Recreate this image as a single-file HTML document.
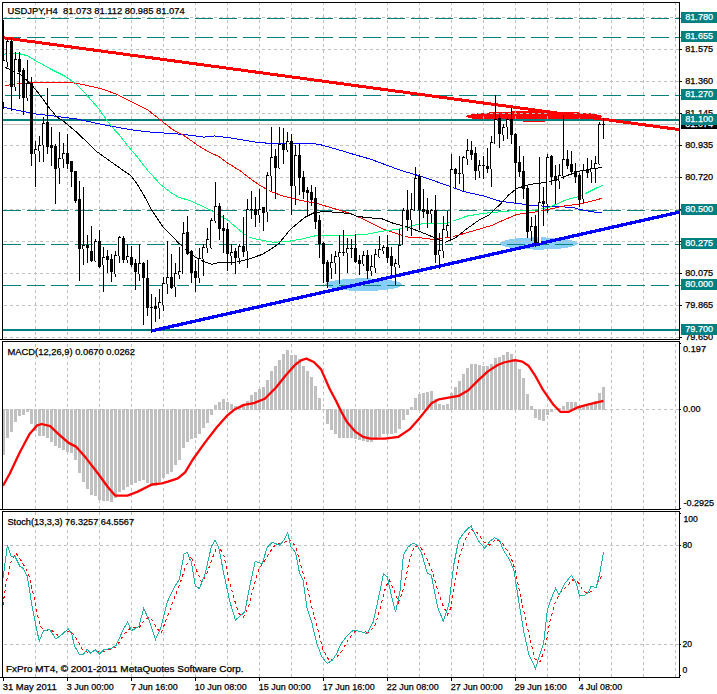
<!DOCTYPE html><html><head><meta charset="utf-8"><title>USDJPY,H4</title>
<style>html,body{margin:0;padding:0;background:#fff;overflow:hidden}svg{display:block}text{font-family:"Liberation Sans",sans-serif;font-size:9.33px;fill:#000;stroke:#000;stroke-width:.25px}.w{fill:#fff;stroke:#fff}.cr{shape-rendering:crispEdges}</style></head><body>
<svg width="717" height="694" viewBox="0 0 717 694">
<rect width="717" height="694" fill="#fff"/>
<defs><clipPath id="c1"><rect x="3" y="3" width="676" height="336"/></clipPath><clipPath id="c2"><rect x="3" y="342" width="676" height="167"/></clipPath><clipPath id="c3"><rect x="3" y="512" width="676" height="165"/></clipPath></defs>
<g clip-path="url(#c1)">
<ellipse class="cr" cx="363.5" cy="284.7" rx="38.6" ry="6.3" fill="#87cefa"/>
<ellipse class="cr" cx="538.7" cy="243.5" rx="39" ry="6.1" fill="#87cefa"/>
<ellipse class="cr" cx="534" cy="116.4" rx="68" ry="5.2" fill="#ff0000"/>
</g>
<g class="cr" stroke="#c0c0c0" stroke-width="1" stroke-dasharray="3 3" fill="none">
<path d="M35.5 3V339" stroke-dashoffset="1"/><path d="M35.5 342V509" stroke-dashoffset="4"/><path d="M35.5 512V677"/>
<path d="M67.5 3V339" stroke-dashoffset="1"/><path d="M67.5 342V509" stroke-dashoffset="4"/><path d="M67.5 512V677"/>
<path d="M99.5 3V339" stroke-dashoffset="1"/><path d="M99.5 342V509" stroke-dashoffset="4"/><path d="M99.5 512V677"/>
<path d="M131.5 3V339" stroke-dashoffset="1"/><path d="M131.5 342V509" stroke-dashoffset="4"/><path d="M131.5 512V677"/>
<path d="M163.5 3V339" stroke-dashoffset="1"/><path d="M163.5 342V509" stroke-dashoffset="4"/><path d="M163.5 512V677"/>
<path d="M195.5 3V339" stroke-dashoffset="1"/><path d="M195.5 342V509" stroke-dashoffset="4"/><path d="M195.5 512V677"/>
<path d="M227.5 3V339" stroke-dashoffset="1"/><path d="M227.5 342V509" stroke-dashoffset="4"/><path d="M227.5 512V677"/>
<path d="M259.5 3V339" stroke-dashoffset="1"/><path d="M259.5 342V509" stroke-dashoffset="4"/><path d="M259.5 512V677"/>
<path d="M291.5 3V339" stroke-dashoffset="1"/><path d="M291.5 342V509" stroke-dashoffset="4"/><path d="M291.5 512V677"/>
<path d="M323.5 3V339" stroke-dashoffset="1"/><path d="M323.5 342V509" stroke-dashoffset="4"/><path d="M323.5 512V677"/>
<path d="M355.5 3V339" stroke-dashoffset="1"/><path d="M355.5 342V509" stroke-dashoffset="4"/><path d="M355.5 512V677"/>
<path d="M387.5 3V339" stroke-dashoffset="1"/><path d="M387.5 342V509" stroke-dashoffset="4"/><path d="M387.5 512V677"/>
<path d="M419.5 3V339" stroke-dashoffset="1"/><path d="M419.5 342V509" stroke-dashoffset="4"/><path d="M419.5 512V677"/>
<path d="M451.5 3V339" stroke-dashoffset="1"/><path d="M451.5 342V509" stroke-dashoffset="4"/><path d="M451.5 512V677"/>
<path d="M483.5 3V339" stroke-dashoffset="1"/><path d="M483.5 342V509" stroke-dashoffset="4"/><path d="M483.5 512V677"/>
<path d="M515.5 3V339" stroke-dashoffset="1"/><path d="M515.5 342V509" stroke-dashoffset="4"/><path d="M515.5 512V677"/>
<path d="M547.5 3V339" stroke-dashoffset="1"/><path d="M547.5 342V509" stroke-dashoffset="4"/><path d="M547.5 512V677"/>
<path d="M579.5 3V339" stroke-dashoffset="1"/><path d="M579.5 342V509" stroke-dashoffset="4"/><path d="M579.5 512V677"/>
<path d="M611.5 3V339" stroke-dashoffset="1"/><path d="M611.5 342V509" stroke-dashoffset="4"/><path d="M611.5 512V677"/>
<path d="M643.5 3V339" stroke-dashoffset="1"/><path d="M643.5 342V509" stroke-dashoffset="4"/><path d="M643.5 512V677"/>
<path d="M675.5 3V339" stroke-dashoffset="1"/><path d="M675.5 342V509" stroke-dashoffset="4"/><path d="M675.5 512V677"/>
<path d="M3 17.5H679" stroke-dashoffset="5"/>
<path d="M3 49.5H679" stroke-dashoffset="5"/>
<path d="M3 81.5H679" stroke-dashoffset="5"/>
<path d="M3 113.5H679" stroke-dashoffset="5"/>
<path d="M3 145.5H679" stroke-dashoffset="5"/>
<path d="M3 177.5H679" stroke-dashoffset="5"/>
<path d="M3 209.5H679" stroke-dashoffset="5"/>
<path d="M3 241.5H679" stroke-dashoffset="5"/>
<path d="M3 273.5H679" stroke-dashoffset="5"/>
<path d="M3 305.5H679" stroke-dashoffset="5"/>
<path d="M3 337.5H679" stroke-dashoffset="5"/>
<path d="M3 409.5H679M3 545.5H679M3 644.5H679" stroke-dashoffset="5"/>
</g>
<g class="cr" fill="#c0c0c0" clip-path="url(#c2)">
<rect x="2" y="409" width="3" height="46"/>
<rect x="6" y="409" width="3" height="29"/>
<rect x="10" y="409" width="3" height="23"/>
<rect x="14" y="409" width="3" height="13"/>
<rect x="18" y="409" width="3" height="7"/>
<rect x="22" y="409" width="3" height="6"/>
<rect x="26" y="409" width="3" height="3"/>
<rect x="30" y="409" width="3" height="15"/>
<rect x="34" y="409" width="3" height="22"/>
<rect x="38" y="409" width="3" height="27"/>
<rect x="42" y="409" width="3" height="27"/>
<rect x="46" y="409" width="3" height="29"/>
<rect x="50" y="409" width="3" height="33"/>
<rect x="54" y="409" width="3" height="37"/>
<rect x="58" y="409" width="3" height="39"/>
<rect x="62" y="409" width="3" height="41"/>
<rect x="66" y="409" width="3" height="43"/>
<rect x="70" y="409" width="3" height="44"/>
<rect x="74" y="409" width="3" height="51"/>
<rect x="78" y="409" width="3" height="64"/>
<rect x="82" y="409" width="3" height="73"/>
<rect x="86" y="409" width="3" height="80"/>
<rect x="90" y="409" width="3" height="86"/>
<rect x="94" y="409" width="3" height="87"/>
<rect x="98" y="409" width="3" height="91"/>
<rect x="102" y="409" width="3" height="92"/>
<rect x="106" y="409" width="3" height="92"/>
<rect x="110" y="409" width="3" height="93"/>
<rect x="114" y="409" width="3" height="89"/>
<rect x="118" y="409" width="3" height="83"/>
<rect x="122" y="409" width="3" height="81"/>
<rect x="126" y="409" width="3" height="78"/>
<rect x="130" y="409" width="3" height="76"/>
<rect x="134" y="409" width="3" height="74"/>
<rect x="138" y="409" width="3" height="72"/>
<rect x="142" y="409" width="3" height="71"/>
<rect x="146" y="409" width="3" height="74"/>
<rect x="150" y="409" width="3" height="77"/>
<rect x="154" y="409" width="3" height="77"/>
<rect x="158" y="409" width="3" height="73"/>
<rect x="162" y="409" width="3" height="69"/>
<rect x="166" y="409" width="3" height="65"/>
<rect x="170" y="409" width="3" height="63"/>
<rect x="174" y="409" width="3" height="56"/>
<rect x="178" y="409" width="3" height="51"/>
<rect x="182" y="409" width="3" height="39"/>
<rect x="186" y="409" width="3" height="33"/>
<rect x="190" y="409" width="3" height="30"/>
<rect x="194" y="409" width="3" height="29"/>
<rect x="198" y="409" width="3" height="25"/>
<rect x="202" y="409" width="3" height="19"/>
<rect x="206" y="409" width="3" height="14"/>
<rect x="210" y="409" width="3" height="6"/>
<rect x="214" y="405" width="3" height="5"/>
<rect x="218" y="402" width="3" height="8"/>
<rect x="222" y="399" width="3" height="11"/>
<rect x="226" y="402" width="3" height="8"/>
<rect x="230" y="404" width="3" height="6"/>
<rect x="234" y="406" width="3" height="4"/>
<rect x="238" y="406" width="3" height="4"/>
<rect x="242" y="404" width="3" height="6"/>
<rect x="246" y="401" width="3" height="9"/>
<rect x="250" y="395" width="3" height="15"/>
<rect x="254" y="392" width="3" height="18"/>
<rect x="258" y="389" width="3" height="21"/>
<rect x="262" y="387" width="3" height="23"/>
<rect x="266" y="380" width="3" height="30"/>
<rect x="270" y="371" width="3" height="39"/>
<rect x="274" y="366" width="3" height="44"/>
<rect x="278" y="360" width="3" height="50"/>
<rect x="282" y="354" width="3" height="56"/>
<rect x="286" y="350" width="3" height="60"/>
<rect x="290" y="355" width="3" height="55"/>
<rect x="294" y="355" width="3" height="55"/>
<rect x="298" y="359" width="3" height="51"/>
<rect x="302" y="366" width="3" height="44"/>
<rect x="306" y="371" width="3" height="39"/>
<rect x="310" y="377" width="3" height="33"/>
<rect x="314" y="386" width="3" height="24"/>
<rect x="318" y="398" width="3" height="12"/>
<rect x="322" y="409" width="3" height="1"/>
<rect x="326" y="409" width="3" height="15"/>
<rect x="330" y="409" width="3" height="21"/>
<rect x="334" y="409" width="3" height="25"/>
<rect x="338" y="409" width="3" height="29"/>
<rect x="342" y="409" width="3" height="29"/>
<rect x="346" y="409" width="3" height="29"/>
<rect x="350" y="409" width="3" height="29"/>
<rect x="354" y="409" width="3" height="30"/>
<rect x="358" y="409" width="3" height="31"/>
<rect x="362" y="409" width="3" height="32"/>
<rect x="366" y="409" width="3" height="33"/>
<rect x="370" y="409" width="3" height="33"/>
<rect x="374" y="409" width="3" height="31"/>
<rect x="378" y="409" width="3" height="28"/>
<rect x="382" y="409" width="3" height="25"/>
<rect x="386" y="409" width="3" height="25"/>
<rect x="390" y="409" width="3" height="25"/>
<rect x="394" y="409" width="3" height="24"/>
<rect x="398" y="409" width="3" height="20"/>
<rect x="402" y="409" width="3" height="11"/>
<rect x="406" y="409" width="3" height="6"/>
<rect x="410" y="407" width="3" height="3"/>
<rect x="414" y="398" width="3" height="12"/>
<rect x="418" y="394" width="3" height="16"/>
<rect x="422" y="393" width="3" height="17"/>
<rect x="426" y="392" width="3" height="18"/>
<rect x="430" y="391" width="3" height="19"/>
<rect x="434" y="399" width="3" height="11"/>
<rect x="438" y="404" width="3" height="6"/>
<rect x="442" y="405" width="3" height="5"/>
<rect x="446" y="404" width="3" height="6"/>
<rect x="450" y="393" width="3" height="17"/>
<rect x="454" y="387" width="3" height="23"/>
<rect x="458" y="381" width="3" height="29"/>
<rect x="462" y="374" width="3" height="36"/>
<rect x="466" y="368" width="3" height="42"/>
<rect x="470" y="364" width="3" height="46"/>
<rect x="474" y="364" width="3" height="46"/>
<rect x="478" y="365" width="3" height="45"/>
<rect x="482" y="366" width="3" height="44"/>
<rect x="486" y="366" width="3" height="44"/>
<rect x="490" y="364" width="3" height="46"/>
<rect x="494" y="358" width="3" height="52"/>
<rect x="498" y="357" width="3" height="53"/>
<rect x="502" y="355" width="3" height="55"/>
<rect x="506" y="352" width="3" height="58"/>
<rect x="510" y="354" width="3" height="56"/>
<rect x="514" y="360" width="3" height="50"/>
<rect x="518" y="369" width="3" height="41"/>
<rect x="522" y="378" width="3" height="32"/>
<rect x="526" y="394" width="3" height="16"/>
<rect x="530" y="406" width="3" height="4"/>
<rect x="534" y="409" width="3" height="9"/>
<rect x="538" y="409" width="3" height="11"/>
<rect x="542" y="409" width="3" height="12"/>
<rect x="546" y="409" width="3" height="6"/>
<rect x="550" y="409" width="3" height="3"/>
<rect x="554" y="409" width="3" height="1"/>
<rect x="558" y="408" width="3" height="2"/>
<rect x="562" y="406" width="3" height="4"/>
<rect x="566" y="402" width="3" height="8"/>
<rect x="570" y="402" width="3" height="8"/>
<rect x="574" y="402" width="3" height="8"/>
<rect x="578" y="406" width="3" height="4"/>
<rect x="582" y="407" width="3" height="3"/>
<rect x="586" y="406" width="3" height="4"/>
<rect x="590" y="404" width="3" height="6"/>
<rect x="594" y="401" width="3" height="9"/>
<rect x="598" y="393" width="3" height="17"/>
<rect x="602" y="387" width="3" height="23"/>
</g>
<polyline clip-path="url(#c2)" points="3.0,485.8 9.8,473.5 19.6,452.7 29.4,434.3 36.7,425.7 41.6,424.0 50.2,426.2 58.8,434.3 68.6,442.9 75.9,446.6 85.7,457.6 98.0,473.5 107.8,487.0 115.1,495.6 127.4,495.6 137.2,491.9 151.9,484.5 161.7,483.3 168.0,481.6 177.8,478.4 185.1,472.3 192.5,460.0 204.7,442.9 217.0,427.0 226.8,415.9 234.1,409.8 243.9,404.9 253.7,403.2 264.8,398.8 275.8,387.8 285.6,375.5 295.4,364.5 301.5,360.1 306.4,358.6 313.8,362.0 321.1,369.4 329.7,389.0 336.0,400.8 340.9,411.0 347.0,422.1 355.6,431.9 363.0,436.8 370.3,438.7 385.0,438.7 398.5,436.8 409.5,429.4 419.3,418.4 431.5,403.2 438.9,399.3 448.7,397.6 458.5,395.9 468.3,390.2 478.1,380.4 487.9,371.4 497.7,365.0 504.0,362.5 515.0,360.1 522.4,361.6 528.5,365.7 535.8,376.7 543.2,390.2 553.0,404.2 560.3,411.8 568.9,411.8 577.5,407.4 589.7,404.2 603.5,400.8" fill="none" stroke="#ff0000" stroke-width="2.3" stroke-linejoin="round"/>
<polyline clip-path="url(#c3)" points="3.0,604.7 6.2,582.3 11.2,561.3 16.1,553.1 22.3,562.5 28.5,573.7 33.5,594.7 37.2,614.6 40.9,627.0 45.8,630.7 52.0,630.7 58.2,635.6 64.4,633.2 70.6,630.7 76.8,639.4 83.0,650.5 89.2,653.0 95.4,650.5 101.6,652.2 109.0,649.8 116.5,646.8 123.9,634.4 131.4,627.0 138.8,628.2 145.0,619.5 150.0,617.0 156.1,627.0 161.1,633.2 167.3,617.0 174.2,598.5 180.4,582.3 185.3,567.5 190.8,556.3 195.3,567.5 201.5,582.3 206.4,574.9 212.6,557.6 217.6,545.2 223.8,555.1 228.7,579.9 233.7,597.2 238.6,613.3 243.6,617.0 248.5,607.1 253.5,587.3 258.5,570.0 263.4,562.5 269.6,552.6 275.8,543.9 282.0,543.9 289.4,539.0 295.6,546.4 300.6,565.0 306.8,584.8 311.7,607.1 316.7,624.5 322.9,649.3 329.1,660.4 336.5,657.5 342.2,650.5 348.4,639.4 354.6,631.9 360.8,631.2 368.2,632.4 374.4,627.0 380.6,607.1 385.6,587.3 389.3,579.9 394.2,591.0 398.5,602.2 404.2,587.3 409.1,561.3 414.1,546.4 420.3,546.4 426.5,557.6 432.7,572.4 437.6,589.8 442.6,604.7 447.5,614.6 451.2,607.1 455.0,579.9 459.9,555.1 464.9,540.2 471.1,529.1 477.3,532.8 483.5,541.5 489.7,545.2 495.8,539.0 502.0,542.7 510.2,555.1 515.2,570.0 520.1,594.7 525.1,617.0 530.0,639.4 535.0,659.2 539.9,661.7 544.9,649.3 549.8,622.0 554.8,603.4 559.8,593.5 566.0,587.3 572.2,579.9 578.3,582.3 583.3,591.0 588.3,593.5 594.5,588.5 599.4,579.9 603.1,573.7" fill="none" stroke="#ff0000" stroke-width="1" stroke-dasharray="3 3" class="cr"/>
<polyline clip-path="url(#c3)" points="3.0,578.6 7.4,545.2 11.2,556.3 14.9,556.3 19.8,566.2 23.5,568.7 27.3,576.2 32.2,607.1 39.2,641.3 43.4,630.7 49.6,629.4 55.8,638.9 62.0,634.4 68.2,628.9 71.9,634.4 74.3,645.5 79.3,654.2 83.0,654.7 87.2,649.3 90.5,653.0 95.4,649.8 99.6,654.2 104.1,649.3 110.3,648.8 116.0,645.5 122.7,630.7 127.6,622.0 131.4,630.7 138.8,626.5 143.7,608.4 148.7,619.5 155.6,639.3 161.1,627.0 167.3,602.2 170.0,596.0 174.2,587.3 179.2,579.9 184.1,553.8 187.3,552.6 191.5,562.5 195.3,586.1 199.5,588.5 205.2,573.7 211.4,546.4 215.1,540.2 218.8,547.7 223.8,573.7 230.0,602.2 235.4,620.0 241.1,615.1 244.8,612.1 249.8,586.1 255.2,561.3 262.2,563.8 267.1,547.7 272.1,542.2 279.5,545.2 284.0,540.2 287.7,532.3 290.7,546.4 295.6,552.6 299.4,572.4 303.1,579.9 306.8,607.1 311.7,622.0 316.7,643.1 321.7,656.7 327.4,663.6 332.8,659.7 336.5,654.0 341.0,643.8 347.2,635.6 353.3,630.2 360.8,631.4 367.0,633.9 373.2,622.0 378.1,599.7 383.6,573.7 387.3,576.9 391.8,597.2 395.5,612.1 399.9,592.3 403.4,555.1 407.9,547.2 412.8,543.2 416.5,544.7 421.5,552.6 427.2,572.9 431.4,575.4 437.6,607.1 443.3,621.3 448.8,604.7 453.7,565.0 458.7,540.2 464.9,531.5 471.1,525.8 474.8,534.0 479.7,542.7 484.7,548.1 489.7,541.5 494.6,537.7 499.6,540.2 503.3,550.1 509.0,558.8 513.9,570.0 518.9,602.2 523.8,631.9 528.8,654.2 535.5,668.6 539.9,654.2 543.7,643.1 547.4,609.6 552.3,596.0 555.6,588.5 559.0,594.7 564.7,583.6 571.4,575.4 575.9,582.3 579.6,596.0 584.5,595.2 588.3,592.3 591.2,586.1 596.2,587.8 599.4,574.9 603.6,552.1" fill="none" stroke="#20b2aa" stroke-width="1" class="cr"/>
<g clip-path="url(#c1)">
<rect class="cr" x="3" y="124" width="676" height="1" fill="#c0c0c0"/>
<g class="cr" stroke="#008080" fill="none">
<path d="M3 18.5H679" stroke-width="1" stroke-dasharray="18 6"/>
<path d="M3 37.5H679" stroke-width="1" stroke-dasharray="18 6"/>
<path d="M3 95.5H679" stroke-width="1" stroke-dasharray="18 6"/>
<path d="M3 210.5H679" stroke-width="1" stroke-dasharray="18 6"/>
<path d="M3 244.5H679" stroke-width="1" stroke-dasharray="18 6"/>
<path d="M3 285.5H679" stroke-width="1" stroke-dasharray="18 6"/>
<path d="M3 120H679" stroke-width="2"/><path d="M3 330H679" stroke-width="2"/>
</g>
<polyline class="cr" points="3.5,107.2 17.3,110.3 34.6,113.8 51.9,115.8 76.1,118.9 96.8,123.3 110.0,126.0 130.9,129.7 147.7,131.8 162.3,132.9 183.2,134.4 204.1,137.1 214.6,136.0 229.2,137.7 243.9,140.2 256.4,142.3 266.7,143.1 291.8,143.5 313.6,143.5 322.0,145.1 338.7,149.8 353.8,154.4 370.0,159.0 400.0,170.1 425.1,177.6 450.2,186.5 463.6,191.5 483.7,196.0 500.4,201.3 516.7,203.3 533.5,205.6 555.2,206.6 572.0,207.3 580.3,209.5 593.7,212.0 602.4,212.3" fill="none" stroke="#0000ff" stroke-width="1"/>
<polyline class="cr" points="3.5,86.1 17.3,83.5 34.6,82.6 51.9,82.6 69.2,82.3 77.8,83.5 89.9,86.1 103.8,89.5 116.3,94.2 130.9,101.5 147.7,109.9 162.3,121.4 172.8,129.7 183.2,135.0 197.9,145.4 208.3,151.7 218.8,156.5 227.2,162.8 239.7,170.5 252.3,180.0 258.4,184.5 270.0,191.2 283.5,196.2 300.2,200.4 316.7,203.4 333.5,208.4 350.2,213.4 363.6,219.3 373.6,224.3 383.7,229.3 397.0,233.8 408.8,237.2 420.0,237.7 433.5,239.5 450.2,237.4 463.6,233.7 475.3,230.3 492.0,225.3 503.8,220.0 516.7,214.5 533.5,212.3 550.2,209.0 563.6,206.1 580.3,203.9 593.7,200.6 602.4,198.2" fill="none" stroke="#ff0000" stroke-width="1"/>
<polyline class="cr" points="3.5,54.1 17.3,53.2 27.7,55.8 34.6,60.1 51.9,69.7 64.0,75.7 74.4,82.6 86.5,94.7 98.6,108.6 107.2,120.7 112.4,127.6 118.4,133.9 126.7,144.4 137.2,156.9 147.7,170.5 160.2,184.1 170.7,192.5 179.0,197.4 189.5,200.5 202.1,206.1 214.6,212.4 227.2,219.7 243.6,233.6 250.3,237.7 263.7,240.6 273.8,242.3 290.0,241.1 300.0,239.4 316.7,235.5 341.8,235.2 363.6,234.9 380.3,231.5 393.7,229.8 407.1,227.7 416.7,224.5 430.1,223.1 446.9,223.6 455.2,220.3 467.0,216.1 483.7,213.3 500.4,211.8 516.7,210.3 533.5,210.3 550.2,207.0 567.0,199.4 580.3,196.1 592.0,190.2 602.4,185.2" fill="none" stroke="#00ff7f" stroke-width="1"/>
<polyline class="cr" points="4.3,67.0 10.4,69.7 20.7,74.8 31.1,84.4 39.8,94.7 48.4,106.8 57.1,117.2 62.0,120.0 77.0,132.5 97.0,151.8 110.0,161.1 120.5,168.5 130.9,175.8 137.2,184.1 143.5,194.6 151.8,210.3 162.3,226.0 170.0,233.9 178.4,242.8 186.7,250.3 195.1,257.0 203.5,261.5 211.8,264.2 220.2,262.3 237.0,262.0 248.7,259.0 262.0,254.5 270.4,249.5 278.8,243.6 290.0,229.9 294.4,226.0 305.2,217.1 313.6,212.9 322.0,211.8 337.0,212.1 350.4,213.8 357.1,216.3 367.0,217.6 382.0,218.8 393.7,223.5 403.8,226.0 413.8,229.3 425.1,233.7 435.1,237.9 445.2,242.4 455.2,237.9 467.0,228.7 478.7,220.3 488.7,215.3 500.4,204.0 508.4,195.2 516.7,188.5 530.1,184.4 546.9,182.2 558.6,178.8 570.3,174.3 580.3,171.0 593.7,168.8 602.4,167.1" fill="none" stroke="#000" stroke-width="1"/>
<line class="cr" x1="3" y1="37.7" x2="680" y2="129.7" stroke="#ff0000" stroke-width="3"/>
<line class="cr" x1="151" y1="331" x2="680" y2="212" stroke="#0000ff" stroke-width="3.3"/>
<g class="cr">
<rect x="3" y="20" width="1" height="89"/>
<rect x="2" y="60" width="3" height="42"/>
<rect class="w" x="3" y="61" width="1" height="40"/>
<rect x="7" y="38" width="1" height="29"/>
<rect x="6" y="41" width="3" height="21"/>
<rect class="w" x="7" y="42" width="1" height="19"/>
<rect x="11" y="38" width="1" height="73"/>
<rect x="10" y="41" width="3" height="46"/>
<rect x="15" y="52" width="1" height="39"/>
<rect x="14" y="59" width="3" height="28"/>
<rect class="w" x="15" y="60" width="1" height="26"/>
<rect x="19" y="52" width="1" height="47"/>
<rect x="18" y="59" width="3" height="13"/>
<rect x="23" y="68" width="1" height="47"/>
<rect x="22" y="70" width="3" height="28"/>
<rect x="27" y="60" width="1" height="41"/>
<rect x="26" y="83" width="3" height="15"/>
<rect class="w" x="27" y="84" width="1" height="13"/>
<rect x="31" y="77" width="1" height="89"/>
<rect x="30" y="83" width="3" height="71"/>
<rect x="35" y="141" width="1" height="46"/>
<rect x="34" y="149" width="3" height="5"/>
<rect class="w" x="35" y="150" width="1" height="3"/>
<rect x="39" y="136" width="1" height="26"/>
<rect x="38" y="145" width="3" height="6"/>
<rect class="w" x="39" y="146" width="1" height="4"/>
<rect x="43" y="117" width="1" height="45"/>
<rect x="42" y="123" width="3" height="22"/>
<rect class="w" x="43" y="124" width="1" height="20"/>
<rect x="47" y="88" width="1" height="66"/>
<rect x="46" y="122" width="3" height="25"/>
<rect x="51" y="127" width="1" height="39"/>
<rect x="50" y="145" width="3" height="3"/>
<rect x="55" y="144" width="1" height="60"/>
<rect x="54" y="146" width="3" height="23"/>
<rect x="59" y="132" width="1" height="52"/>
<rect x="58" y="158" width="3" height="10"/>
<rect class="w" x="59" y="159" width="1" height="8"/>
<rect x="63" y="143" width="1" height="25"/>
<rect x="62" y="153" width="3" height="6"/>
<rect class="w" x="63" y="154" width="1" height="4"/>
<rect x="67" y="134" width="1" height="35"/>
<rect x="66" y="153" width="3" height="11"/>
<rect x="71" y="161" width="1" height="26"/>
<rect x="70" y="161" width="3" height="11"/>
<rect x="75" y="171" width="1" height="32"/>
<rect x="74" y="171" width="3" height="30"/>
<rect x="79" y="181" width="1" height="100"/>
<rect x="78" y="199" width="3" height="50"/>
<rect x="83" y="187" width="1" height="78"/>
<rect x="82" y="245" width="3" height="4"/>
<rect class="w" x="83" y="246" width="1" height="2"/>
<rect x="87" y="235" width="1" height="28"/>
<rect x="86" y="245" width="3" height="3"/>
<rect x="91" y="226" width="1" height="36"/>
<rect x="90" y="251" width="3" height="10"/>
<rect x="95" y="239" width="1" height="23"/>
<rect x="94" y="241" width="3" height="20"/>
<rect class="w" x="95" y="242" width="1" height="18"/>
<rect x="99" y="230" width="1" height="38"/>
<rect x="98" y="241" width="3" height="26"/>
<rect x="103" y="247" width="1" height="45"/>
<rect x="102" y="257" width="3" height="8"/>
<rect class="w" x="103" y="258" width="1" height="6"/>
<rect x="107" y="250" width="1" height="23"/>
<rect x="106" y="256" width="3" height="4"/>
<rect x="111" y="254" width="1" height="28"/>
<rect x="110" y="259" width="3" height="13"/>
<rect x="115" y="251" width="1" height="26"/>
<rect x="114" y="255" width="3" height="19"/>
<rect class="w" x="115" y="256" width="1" height="17"/>
<rect x="119" y="236" width="1" height="27"/>
<rect x="118" y="237" width="3" height="19"/>
<rect class="w" x="119" y="238" width="1" height="17"/>
<rect x="123" y="236" width="1" height="27"/>
<rect x="122" y="238" width="3" height="22"/>
<rect x="127" y="244" width="1" height="19"/>
<rect x="126" y="256" width="3" height="4"/>
<rect class="w" x="127" y="257" width="1" height="2"/>
<rect x="131" y="246" width="1" height="21"/>
<rect x="130" y="257" width="3" height="8"/>
<rect x="135" y="259" width="1" height="31"/>
<rect x="134" y="263" width="3" height="9"/>
<rect x="139" y="244" width="1" height="37"/>
<rect x="138" y="263" width="3" height="11"/>
<rect class="w" x="139" y="264" width="1" height="9"/>
<rect x="143" y="262" width="1" height="63"/>
<rect x="142" y="263" width="3" height="15"/>
<rect x="147" y="260" width="1" height="56"/>
<rect x="146" y="278" width="3" height="30"/>
<rect x="151" y="294" width="1" height="39"/>
<rect x="150" y="307" width="3" height="1"/>
<rect x="155" y="297" width="1" height="25"/>
<rect x="154" y="306" width="3" height="3"/>
<rect x="159" y="289" width="1" height="30"/>
<rect x="158" y="302" width="3" height="6"/>
<rect class="w" x="159" y="303" width="1" height="4"/>
<rect x="163" y="277" width="1" height="34"/>
<rect x="162" y="283" width="3" height="22"/>
<rect class="w" x="163" y="284" width="1" height="20"/>
<rect x="167" y="241" width="1" height="53"/>
<rect x="166" y="277" width="3" height="7"/>
<rect class="w" x="167" y="278" width="1" height="5"/>
<rect x="171" y="254" width="1" height="35"/>
<rect x="170" y="277" width="3" height="11"/>
<rect x="175" y="263" width="1" height="34"/>
<rect x="174" y="273" width="3" height="14"/>
<rect class="w" x="175" y="274" width="1" height="12"/>
<rect x="179" y="247" width="1" height="32"/>
<rect x="178" y="271" width="3" height="4"/>
<rect class="w" x="179" y="272" width="1" height="2"/>
<rect x="183" y="222" width="1" height="52"/>
<rect x="182" y="233" width="3" height="41"/>
<rect class="w" x="183" y="234" width="1" height="39"/>
<rect x="187" y="216" width="1" height="39"/>
<rect x="186" y="232" width="3" height="22"/>
<rect x="191" y="250" width="1" height="33"/>
<rect x="190" y="251" width="3" height="22"/>
<rect x="195" y="260" width="1" height="32"/>
<rect x="194" y="271" width="3" height="7"/>
<rect x="199" y="248" width="1" height="35"/>
<rect x="198" y="258" width="3" height="20"/>
<rect class="w" x="199" y="259" width="1" height="18"/>
<rect x="203" y="244" width="1" height="32"/>
<rect x="202" y="247" width="3" height="12"/>
<rect class="w" x="203" y="248" width="1" height="10"/>
<rect x="207" y="228" width="1" height="25"/>
<rect x="206" y="239" width="3" height="9"/>
<rect class="w" x="207" y="240" width="1" height="7"/>
<rect x="211" y="218" width="1" height="31"/>
<rect x="210" y="220" width="3" height="28"/>
<rect class="w" x="211" y="221" width="1" height="26"/>
<rect x="215" y="182" width="1" height="41"/>
<rect x="214" y="206" width="3" height="15"/>
<rect class="w" x="215" y="207" width="1" height="13"/>
<rect x="219" y="203" width="1" height="37"/>
<rect x="218" y="206" width="3" height="23"/>
<rect x="223" y="215" width="1" height="38"/>
<rect x="222" y="228" width="3" height="3"/>
<rect x="227" y="223" width="1" height="48"/>
<rect x="226" y="229" width="3" height="25"/>
<rect x="231" y="244" width="1" height="21"/>
<rect x="230" y="252" width="3" height="4"/>
<rect class="w" x="231" y="253" width="1" height="2"/>
<rect x="235" y="248" width="1" height="26"/>
<rect x="234" y="251" width="3" height="7"/>
<rect x="239" y="244" width="1" height="20"/>
<rect x="238" y="246" width="3" height="12"/>
<rect class="w" x="239" y="247" width="1" height="10"/>
<rect x="243" y="217" width="1" height="40"/>
<rect x="242" y="246" width="3" height="6"/>
<rect x="247" y="199" width="1" height="69"/>
<rect x="246" y="209" width="3" height="42"/>
<rect class="w" x="247" y="210" width="1" height="40"/>
<rect x="251" y="191" width="1" height="28"/>
<rect x="250" y="209" width="3" height="1"/>
<rect x="255" y="197" width="1" height="30"/>
<rect x="254" y="209" width="3" height="6"/>
<rect x="259" y="189" width="1" height="34"/>
<rect x="258" y="209" width="3" height="6"/>
<rect class="w" x="259" y="210" width="1" height="4"/>
<rect x="263" y="207" width="1" height="24"/>
<rect x="262" y="207" width="3" height="6"/>
<rect x="267" y="172" width="1" height="50"/>
<rect x="266" y="175" width="3" height="37"/>
<rect class="w" x="267" y="176" width="1" height="35"/>
<rect x="271" y="127" width="1" height="64"/>
<rect x="270" y="157" width="3" height="19"/>
<rect class="w" x="271" y="158" width="1" height="17"/>
<rect x="275" y="149" width="1" height="50"/>
<rect x="274" y="156" width="3" height="12"/>
<rect x="279" y="127" width="1" height="42"/>
<rect x="278" y="144" width="3" height="24"/>
<rect class="w" x="279" y="145" width="1" height="22"/>
<rect x="283" y="128" width="1" height="36"/>
<rect x="282" y="144" width="3" height="6"/>
<rect x="287" y="132" width="1" height="20"/>
<rect x="286" y="141" width="3" height="9"/>
<rect class="w" x="287" y="142" width="1" height="7"/>
<rect x="291" y="134" width="1" height="81"/>
<rect x="290" y="141" width="3" height="45"/>
<rect x="295" y="145" width="1" height="60"/>
<rect x="294" y="155" width="3" height="31"/>
<rect class="w" x="295" y="156" width="1" height="29"/>
<rect x="299" y="144" width="1" height="51"/>
<rect x="298" y="155" width="3" height="23"/>
<rect x="303" y="171" width="1" height="28"/>
<rect x="302" y="177" width="3" height="15"/>
<rect x="307" y="187" width="1" height="29"/>
<rect x="306" y="190" width="3" height="3"/>
<rect x="311" y="185" width="1" height="21"/>
<rect x="310" y="192" width="3" height="8"/>
<rect x="315" y="187" width="1" height="42"/>
<rect x="314" y="198" width="3" height="24"/>
<rect x="319" y="215" width="1" height="43"/>
<rect x="318" y="220" width="3" height="24"/>
<rect x="323" y="242" width="1" height="41"/>
<rect x="322" y="243" width="3" height="21"/>
<rect x="327" y="260" width="1" height="28"/>
<rect x="326" y="262" width="3" height="20"/>
<rect x="331" y="254" width="1" height="25"/>
<rect x="330" y="262" width="3" height="6"/>
<rect class="w" x="331" y="263" width="1" height="4"/>
<rect x="335" y="251" width="1" height="23"/>
<rect x="334" y="256" width="3" height="7"/>
<rect class="w" x="335" y="257" width="1" height="5"/>
<rect x="339" y="235" width="1" height="49"/>
<rect x="338" y="252" width="3" height="5"/>
<rect class="w" x="339" y="253" width="1" height="3"/>
<rect x="343" y="230" width="1" height="26"/>
<rect x="342" y="252" width="3" height="1"/>
<rect x="347" y="238" width="1" height="35"/>
<rect x="346" y="248" width="3" height="5"/>
<rect class="w" x="347" y="249" width="1" height="3"/>
<rect x="351" y="239" width="1" height="19"/>
<rect x="350" y="248" width="3" height="1"/>
<rect x="355" y="234" width="1" height="29"/>
<rect x="354" y="248" width="3" height="14"/>
<rect x="359" y="255" width="1" height="20"/>
<rect x="358" y="260" width="3" height="4"/>
<rect x="363" y="251" width="1" height="15"/>
<rect x="362" y="255" width="3" height="9"/>
<rect class="w" x="363" y="256" width="1" height="7"/>
<rect x="367" y="250" width="1" height="29"/>
<rect x="366" y="255" width="3" height="16"/>
<rect x="371" y="255" width="1" height="21"/>
<rect x="370" y="266" width="3" height="5"/>
<rect class="w" x="371" y="267" width="1" height="3"/>
<rect x="375" y="249" width="1" height="24"/>
<rect x="374" y="254" width="3" height="14"/>
<rect class="w" x="375" y="255" width="1" height="12"/>
<rect x="379" y="236" width="1" height="22"/>
<rect x="378" y="249" width="3" height="8"/>
<rect class="w" x="379" y="250" width="1" height="6"/>
<rect x="383" y="245" width="1" height="9"/>
<rect x="382" y="247" width="3" height="4"/>
<rect class="w" x="383" y="248" width="1" height="2"/>
<rect x="387" y="235" width="1" height="28"/>
<rect x="386" y="247" width="3" height="11"/>
<rect x="391" y="247" width="1" height="28"/>
<rect x="390" y="256" width="3" height="10"/>
<rect x="395" y="259" width="1" height="26"/>
<rect x="394" y="263" width="3" height="4"/>
<rect class="w" x="395" y="264" width="1" height="2"/>
<rect x="399" y="229" width="1" height="39"/>
<rect x="398" y="245" width="3" height="20"/>
<rect class="w" x="399" y="246" width="1" height="18"/>
<rect x="403" y="208" width="1" height="37"/>
<rect x="402" y="210" width="3" height="35"/>
<rect class="w" x="403" y="211" width="1" height="33"/>
<rect x="407" y="190" width="1" height="41"/>
<rect x="406" y="210" width="3" height="10"/>
<rect x="411" y="193" width="1" height="43"/>
<rect x="410" y="209" width="3" height="11"/>
<rect class="w" x="411" y="210" width="1" height="9"/>
<rect x="415" y="167" width="1" height="44"/>
<rect x="414" y="178" width="3" height="33"/>
<rect class="w" x="415" y="179" width="1" height="31"/>
<rect x="419" y="174" width="1" height="56"/>
<rect x="418" y="176" width="3" height="34"/>
<rect x="423" y="189" width="1" height="29"/>
<rect x="422" y="209" width="3" height="3"/>
<rect x="427" y="198" width="1" height="30"/>
<rect x="426" y="210" width="3" height="4"/>
<rect x="431" y="209" width="1" height="14"/>
<rect x="430" y="210" width="3" height="4"/>
<rect class="w" x="431" y="211" width="1" height="2"/>
<rect x="435" y="195" width="1" height="68"/>
<rect x="434" y="210" width="3" height="45"/>
<rect x="439" y="233" width="1" height="36"/>
<rect x="438" y="250" width="3" height="5"/>
<rect class="w" x="439" y="251" width="1" height="3"/>
<rect x="443" y="216" width="1" height="42"/>
<rect x="442" y="229" width="3" height="22"/>
<rect class="w" x="443" y="230" width="1" height="20"/>
<rect x="447" y="211" width="1" height="26"/>
<rect x="446" y="225" width="3" height="6"/>
<rect class="w" x="447" y="226" width="1" height="4"/>
<rect x="451" y="154" width="1" height="86"/>
<rect x="450" y="169" width="3" height="70"/>
<rect class="w" x="451" y="170" width="1" height="68"/>
<rect x="455" y="168" width="1" height="20"/>
<rect x="454" y="169" width="3" height="5"/>
<rect x="459" y="156" width="1" height="28"/>
<rect x="458" y="173" width="3" height="1"/>
<rect x="463" y="156" width="1" height="36"/>
<rect x="462" y="157" width="3" height="17"/>
<rect class="w" x="463" y="158" width="1" height="15"/>
<rect x="467" y="139" width="1" height="26"/>
<rect x="466" y="150" width="3" height="9"/>
<rect class="w" x="467" y="151" width="1" height="7"/>
<rect x="471" y="141" width="1" height="19"/>
<rect x="470" y="150" width="3" height="5"/>
<rect x="475" y="147" width="1" height="33"/>
<rect x="474" y="153" width="3" height="18"/>
<rect x="479" y="160" width="1" height="18"/>
<rect x="478" y="165" width="3" height="6"/>
<rect class="w" x="479" y="166" width="1" height="4"/>
<rect x="483" y="156" width="1" height="23"/>
<rect x="482" y="165" width="3" height="1"/>
<rect x="487" y="148" width="1" height="25"/>
<rect x="486" y="166" width="3" height="3"/>
<rect x="491" y="136" width="1" height="51"/>
<rect x="490" y="142" width="3" height="27"/>
<rect class="w" x="491" y="143" width="1" height="25"/>
<rect x="495" y="95" width="1" height="49"/>
<rect x="494" y="119" width="3" height="25"/>
<rect class="w" x="495" y="120" width="1" height="23"/>
<rect x="499" y="115" width="1" height="33"/>
<rect x="498" y="118" width="3" height="16"/>
<rect x="503" y="124" width="1" height="17"/>
<rect x="502" y="127" width="3" height="8"/>
<rect class="w" x="503" y="128" width="1" height="6"/>
<rect x="507" y="118" width="1" height="21"/>
<rect x="506" y="119" width="3" height="8"/>
<rect class="w" x="507" y="120" width="1" height="6"/>
<rect x="511" y="108" width="1" height="36"/>
<rect x="510" y="119" width="3" height="16"/>
<rect x="515" y="133" width="1" height="71"/>
<rect x="514" y="134" width="3" height="29"/>
<rect x="519" y="146" width="1" height="31"/>
<rect x="518" y="162" width="3" height="10"/>
<rect x="523" y="156" width="1" height="43"/>
<rect x="522" y="171" width="3" height="18"/>
<rect x="527" y="186" width="1" height="52"/>
<rect x="526" y="188" width="3" height="44"/>
<rect x="531" y="217" width="1" height="24"/>
<rect x="530" y="226" width="3" height="5"/>
<rect class="w" x="531" y="227" width="1" height="3"/>
<rect x="535" y="215" width="1" height="32"/>
<rect x="534" y="226" width="3" height="17"/>
<rect x="539" y="157" width="1" height="89"/>
<rect x="538" y="202" width="3" height="41"/>
<rect class="w" x="539" y="203" width="1" height="39"/>
<rect x="543" y="187" width="1" height="39"/>
<rect x="542" y="201" width="3" height="3"/>
<rect x="547" y="154" width="1" height="59"/>
<rect x="546" y="157" width="3" height="47"/>
<rect class="w" x="547" y="158" width="1" height="45"/>
<rect x="551" y="155" width="1" height="30"/>
<rect x="550" y="156" width="3" height="21"/>
<rect x="555" y="165" width="1" height="39"/>
<rect x="554" y="176" width="3" height="5"/>
<rect x="559" y="164" width="1" height="25"/>
<rect x="558" y="175" width="3" height="6"/>
<rect class="w" x="559" y="176" width="1" height="4"/>
<rect x="563" y="115" width="1" height="64"/>
<rect x="562" y="159" width="3" height="17"/>
<rect class="w" x="563" y="160" width="1" height="15"/>
<rect x="567" y="150" width="1" height="19"/>
<rect x="566" y="159" width="3" height="7"/>
<rect x="571" y="151" width="1" height="24"/>
<rect x="570" y="164" width="3" height="8"/>
<rect x="575" y="163" width="1" height="20"/>
<rect x="574" y="171" width="3" height="6"/>
<rect x="579" y="173" width="1" height="34"/>
<rect x="578" y="175" width="3" height="25"/>
<rect x="583" y="164" width="1" height="39"/>
<rect x="582" y="170" width="3" height="29"/>
<rect class="w" x="583" y="171" width="1" height="27"/>
<rect x="587" y="158" width="1" height="20"/>
<rect x="586" y="170" width="3" height="3"/>
<rect x="591" y="160" width="1" height="23"/>
<rect x="590" y="168" width="3" height="4"/>
<rect class="w" x="591" y="169" width="1" height="2"/>
<rect x="595" y="156" width="1" height="27"/>
<rect x="594" y="163" width="3" height="5"/>
<rect class="w" x="595" y="164" width="1" height="3"/>
<rect x="599" y="122" width="1" height="43"/>
<rect x="598" y="124" width="3" height="40"/>
<rect class="w" x="599" y="125" width="1" height="38"/>
<rect x="603" y="118" width="1" height="21"/>
<rect x="602" y="124" width="3" height="1"/>
</g>
</g>
<g class="cr" fill="none" stroke="#000" stroke-width="1">
<path d="M2.5 339V2.5H679.5V339.5H0"/>
<path d="M2.5 509V341.5H679.5V509.5H0"/>
<path d="M2.5 677V511.5H679.5V677.5H0"/>
<path d="M680 49.5H682"/>
<path d="M680 81.5H682"/>
<path d="M680 113.5H682"/>
<path d="M680 145.5H682"/>
<path d="M680 177.5H682"/>
<path d="M680 209.5H682"/>
<path d="M680 241.5H682"/>
<path d="M680 273.5H682"/>
<path d="M680 305.5H682"/>
<path d="M680 337.5H682"/>
<path d="M680 343.5H681M680 409.5H681M680 508.5H681M680 513.5H681M680 545.5H681M680 644.5H681M680 675.5H681"/>
<path d="M3.5 678V681"/>
<path d="M67.5 678V681"/>
<path d="M131.5 678V681"/>
<path d="M195.5 678V681"/>
<path d="M259.5 678V681"/>
<path d="M323.5 678V681"/>
<path d="M387.5 678V681"/>
<path d="M451.5 678V681"/>
<path d="M515.5 678V681"/>
<path d="M579.5 678V681"/>
</g>
<g class="cr" stroke="#008080"><path d="M680 18.5H682M680 37.5H682M680 95.5H682M680 210.5H682M680 244.5H682M680 285.5H682"/></g>
<text x="685.2" y="51.5" textLength="28" lengthAdjust="spacingAndGlyphs">81.575</text>
<text x="685.2" y="83.5" textLength="28" lengthAdjust="spacingAndGlyphs">81.360</text>
<text x="685.2" y="115.5" textLength="28" lengthAdjust="spacingAndGlyphs">81.145</text>
<text x="685.2" y="147.5" textLength="28" lengthAdjust="spacingAndGlyphs">80.935</text>
<text x="685.2" y="179.5" textLength="28" lengthAdjust="spacingAndGlyphs">80.720</text>
<text x="685.2" y="211.5" textLength="28" lengthAdjust="spacingAndGlyphs">80.505</text>
<text x="685.2" y="243.5" textLength="28" lengthAdjust="spacingAndGlyphs">80.290</text>
<text x="685.2" y="275.5" textLength="28" lengthAdjust="spacingAndGlyphs">80.075</text>
<text x="685.2" y="307.5" textLength="28" lengthAdjust="spacingAndGlyphs">79.865</text>
<text x="685.2" y="339.5" textLength="28" lengthAdjust="spacingAndGlyphs">79.650</text>
<rect class="cr" x="681" y="118" width="36" height="11" fill="#000"/>
<text x="685.2" y="126.5" class="w" textLength="28" lengthAdjust="spacingAndGlyphs">81.074</text>
<rect class="cr" x="681" y="12" width="36" height="11" fill="#008080"/>
<text x="685.2" y="20.4" class="w" textLength="28" lengthAdjust="spacingAndGlyphs">81.780</text>
<rect class="cr" x="681" y="31" width="36" height="11" fill="#008080"/>
<text x="685.2" y="39.4" class="w" textLength="28" lengthAdjust="spacingAndGlyphs">81.655</text>
<rect class="cr" x="681" y="89" width="36" height="11" fill="#008080"/>
<text x="685.2" y="97.4" class="w" textLength="28" lengthAdjust="spacingAndGlyphs">81.270</text>
<rect class="cr" x="681" y="114" width="36" height="11" fill="#008080"/>
<text x="685.2" y="122.4" class="w" textLength="28" lengthAdjust="spacingAndGlyphs">81.100</text>
<rect class="cr" x="681" y="204" width="36" height="11" fill="#008080"/>
<text x="685.2" y="212.4" class="w" textLength="28" lengthAdjust="spacingAndGlyphs">80.500</text>
<rect class="cr" x="681" y="238" width="36" height="11" fill="#008080"/>
<text x="685.2" y="246.4" class="w" textLength="28" lengthAdjust="spacingAndGlyphs">80.275</text>
<rect class="cr" x="681" y="279" width="36" height="11" fill="#008080"/>
<text x="685.2" y="287.4" class="w" textLength="28" lengthAdjust="spacingAndGlyphs">80.000</text>
<rect class="cr" x="681" y="324" width="36" height="11" fill="#008080"/>
<text x="685.2" y="332.4" class="w" textLength="28" lengthAdjust="spacingAndGlyphs">79.700</text>
<text x="683" y="352" textLength="23" lengthAdjust="spacingAndGlyphs">0.197</text>
<text x="683" y="412" textLength="17.5" lengthAdjust="spacingAndGlyphs">0.00</text>
<text x="683.4" y="506" textLength="30.6" lengthAdjust="spacingAndGlyphs">-0.2925</text>
<text x="683.5" y="521.5" textLength="14.4" lengthAdjust="spacingAndGlyphs">100</text>
<text x="682.5" y="548" textLength="9.6" lengthAdjust="spacingAndGlyphs">80</text>
<text x="682.5" y="647" textLength="9.6" lengthAdjust="spacingAndGlyphs">20</text>
<text x="682.5" y="673" textLength="4.8" lengthAdjust="spacingAndGlyphs">0</text>
<text x="7.5" y="14" textLength="177.2" lengthAdjust="spacingAndGlyphs">USDJPY,H4&#160;&#160;81.073 81.112 80.985 81.074</text>
<text x="7.5" y="354.7" textLength="127.5" lengthAdjust="spacingAndGlyphs">MACD(12,26,9) 0.0670 0.0262</text>
<text x="7.5" y="524.7" textLength="126.5" lengthAdjust="spacingAndGlyphs">Stoch(13,3,3) 76.3257 64.5567</text>
<text x="6" y="672" textLength="237.6" lengthAdjust="spacingAndGlyphs">FxPro MT4, &#169; 2001-2011 MetaQuotes Software Corp.</text>
<text x="2.7" y="689.5" textLength="54" lengthAdjust="spacingAndGlyphs">31 May 2011</text>
<text x="66.7" y="689.5" textLength="47" lengthAdjust="spacingAndGlyphs">3 Jun 00:00</text>
<text x="130.7" y="689.5" textLength="47" lengthAdjust="spacingAndGlyphs">7 Jun 16:00</text>
<text x="194.7" y="689.5" textLength="52" lengthAdjust="spacingAndGlyphs">10 Jun 08:00</text>
<text x="258.7" y="689.5" textLength="52" lengthAdjust="spacingAndGlyphs">15 Jun 00:00</text>
<text x="322.7" y="689.5" textLength="52" lengthAdjust="spacingAndGlyphs">17 Jun 16:00</text>
<text x="386.7" y="689.5" textLength="52" lengthAdjust="spacingAndGlyphs">22 Jun 08:00</text>
<text x="450.7" y="689.5" textLength="52" lengthAdjust="spacingAndGlyphs">27 Jun 00:00</text>
<text x="514.7" y="689.5" textLength="52" lengthAdjust="spacingAndGlyphs">29 Jun 16:00</text>
<text x="578.7" y="689.5" textLength="43.5" lengthAdjust="spacingAndGlyphs">4 Jul 08:00</text>
</svg></body></html>
